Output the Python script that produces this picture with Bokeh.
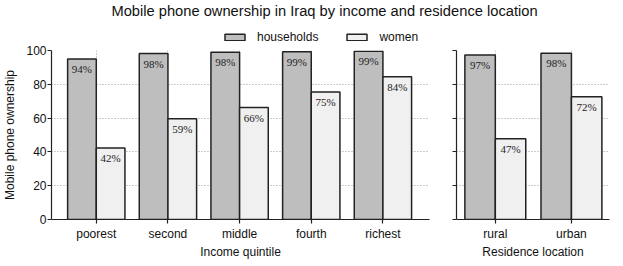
from bokeh.plotting import figure
from bokeh.models import (ColumnDataSource, Range1d, FixedTicker, Legend, LegendItem,
                          Title, LabelSet)
from bokeh.layouts import column, row
from bokeh.transform import dodge
from bokeh.embed import file_html
from bokeh.resources import INLINE

# ---- data ----
income_cats = ["poorest", "second", "middle", "fourth", "richest"]
income_households = [94.9, 98.2, 98.9, 99.2, 99.6]
income_women = [42.3, 59.6, 66.2, 75.5, 84.4]

res_cats = ["rural", "urban"]
res_households = [97.3, 98.3]
res_women = [47.8, 72.6]

y_ticks = [0, 20, 40, 60, 80, 100]

title_text = "Mobile phone ownership in Iraq by income and residence location"
series_names = ["households", "women"]
ylabel = "Mobile phone ownership"
xlabel_income = "Income quintile"
xlabel_res = "Residence location"

FONT = "Liberation Sans"
HH_COLOR = "#bebebe"
W_COLOR = "#f0f0f0"
EDGE = "#222222"
GRID = "#9a9a9a"
TXT = "#111111"

TOP = 6
FRAME_H = 169


def pct(v):
    return [f"{int(x)}%" for x in v]


def make_panel(cats, hh, wm, xr, frame_w, xlabel, show_ylabels, bl, br):
    xs = list(range(len(cats)))
    src = ColumnDataSource(dict(x=xs, hh=hh, wm=wm, hl=pct(hh), wl=pct(wm)))
    p = figure(output_backend="svg", toolbar_location=None,
               frame_width=frame_w, frame_height=FRAME_H,
               x_range=Range1d(*xr), y_range=Range1d(0, 100),
               min_border_left=bl, min_border_right=br, min_border_top=TOP,
               min_border_bottom=0)
    p.outline_line_color = None
    p.background_fill_color = "white"
    p.border_fill_color = "white"

    p.vbar(x=dodge("x", -0.2, range=p.x_range), top="hh", width=0.4, source=src,
           fill_color=HH_COLOR, line_color=EDGE, line_width=1.5)
    p.vbar(x=dodge("x", 0.2, range=p.x_range), top="wm", width=0.4, source=src,
           fill_color=W_COLOR, line_color=EDGE, line_width=1.5)

    for col, lab, off in (("hh", "hl", -0.2), ("wm", "wl", 0.2)):
        ls = LabelSet(x=dodge("x", off, range=p.x_range), y=col, text=lab, source=src,
                      text_align="center", text_baseline="top", y_offset=-4,
                      text_font=FONT, text_font_size="11px", text_color=EDGE)
        p.add_layout(ls)

    p.xaxis.ticker = FixedTicker(ticks=xs)
    p.xaxis.major_label_overrides = {i: c for i, c in enumerate(cats)}
    p.yaxis.ticker = FixedTicker(ticks=y_ticks)

    for ax in (p.xaxis[0], p.yaxis[0]):
        ax.axis_line_color = EDGE
        ax.axis_line_width = 1.2
        ax.major_tick_line_color = EDGE
        ax.major_tick_line_width = 1.2
        ax.major_tick_out = 4
        ax.major_tick_in = 0
        ax.minor_tick_line_color = None
        ax.major_label_text_font = FONT
        ax.major_label_text_font_size = "12px"
        ax.major_label_text_color = TXT
        ax.axis_label_text_font = FONT
        ax.axis_label_text_font_size = "12px"
        ax.axis_label_text_font_style = "normal"
        ax.axis_label_text_color = TXT

    p.xaxis.major_label_standoff = 3
    p.xaxis.axis_label = xlabel
    p.xaxis.axis_label_standoff = 1
    if show_ylabels:
        p.yaxis.axis_label = ylabel
        p.yaxis.axis_label_standoff = 6
        p.yaxis.major_label_standoff = 1
    else:
        p.yaxis.major_label_overrides = {t: "" for t in y_ticks}
        p.yaxis.major_label_standoff = 0

    for g in (p.xgrid[0], p.ygrid[0]):
        g.grid_line_color = GRID
        g.grid_line_dash = "1 2"
        g.grid_line_width = 1
    p.xgrid.ticker = FixedTicker(ticks=xs)
    p.ygrid.ticker = FixedTicker(ticks=y_ticks[1:])
    return p, src


p1, src1 = make_panel(income_cats, income_households, income_women, (-0.625, 4.65), 378,
                      xlabel_income, True, 51, 12)
p2, _ = make_panel(res_cats, res_households, res_women, (-0.51, 1.5), 153,
                   xlabel_res, False, 15, 3)

# header holding the title and the legend
hdr = figure(output_backend="svg", toolbar_location=None, width=612, height=44,
             x_range=Range1d(0, 1), y_range=Range1d(0, 1),
             min_border_left=36, min_border_right=0, min_border_top=12, min_border_bottom=0)
hdr.axis.visible = False
hdr.grid.visible = False
hdr.outline_line_color = None
t = Title(text=title_text, align="center", text_font=FONT, text_font_size="14.7px",
          text_font_style="normal", text_color=TXT, standoff=0)
hdr.add_layout(t, "above")

# legend swatches: hidden renderers (only their legend entries are drawn)
lr1 = hdr.vbar(x="x", top="hh", width=0.4, source=src1,
               fill_color=HH_COLOR, line_color=EDGE, line_width=1.5)
lr2 = hdr.vbar(x="x", top="wm", width=0.4, source=src1,
               fill_color=W_COLOR, line_color=EDGE, line_width=1.5)
lr1.visible = False
lr2.visible = False
leg = Legend(items=[LegendItem(label=series_names[0], renderers=[lr1]),
                    LegendItem(label=series_names[1], renderers=[lr2])],
             orientation="horizontal", location=(186, 0), click_policy="none",
             inactive_fill_alpha=0,
             glyph_width=25, glyph_height=8, label_standoff=10, spacing=26,
             padding=0, margin=0, border_line_color=None, background_fill_alpha=0,
             label_text_font=FONT, label_text_font_size="12px", label_text_color=TXT,
             label_height=14)
hdr.add_layout(leg, "center")

layout = column(hdr, row(p1, p2, spacing=0), spacing=0)

open("out.html", "w").write(file_html(layout, INLINE))
